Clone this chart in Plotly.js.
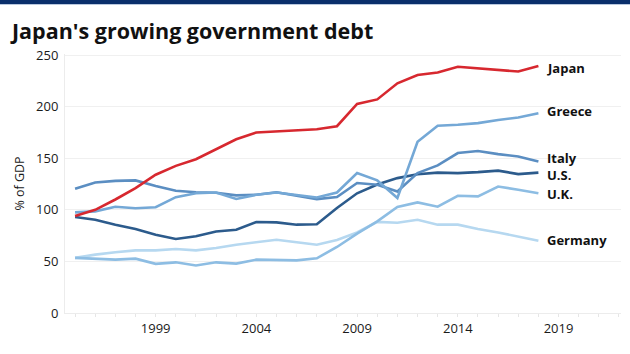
<!DOCTYPE html>
<html>
<head>
<meta charset="utf-8">
<script src="https://cdn.plot.ly/plotly-3.0.1.min.js"></script>
<style>
  html, body { margin: 0; padding: 0; background: #fff; }
  #chart { width: 630px; height: 354px; }
</style>
</head>
<body>
<div id="chart"></div>
<script>
const years = [1995, 1996, 1997, 1998, 1999, 2000, 2001, 2002, 2003, 2004, 2005, 2006,
               2007, 2008, 2009, 2010, 2011, 2012, 2013, 2014, 2015, 2016, 2017, 2018];

const japan   = [94, 100, 110, 121, 134, 142.6, 149, 158.8, 168.4, 175, 175.8, 176.5,
                 178, 181, 202.6, 207, 222.6, 230.6, 233, 238.7, 237, 236, 234, 239.3];
const greece  = [97.5, 98.5, 103, 101.5, 102.5, 112.3, 116, 116.8, 110.5, 114.6, 116.8, 114.6,
                 112, 116.8, 135.6, 128.5, 111.4, 166, 181.5, 182.5, 184, 187, 189.5, 193.6];
const italy   = [120.5, 126.5, 128, 128.5, 123, 118.5, 117, 116.5, 114, 114.6, 117, 113.5,
                 110.4, 112.4, 126, 124.3, 117.8, 135.6, 143, 155, 157, 154, 151.7, 146.8];
const us      = [93, 90.4, 85.6, 81.4, 75.9, 71.7, 74.3, 79, 80.7, 88.2, 87.8, 85.6,
                 86, 101.7, 116, 124.5, 130.7, 134.5, 136, 135.6, 136.5, 138, 134.6, 136];
const uk      = [53.4, 52.4, 51.7, 52.7, 47.6, 49.1, 46, 49.1, 47.9, 51.7, 51.7, 51,
                 53, 64, 77, 88.8, 102.7, 107.2, 103, 113.6, 113, 122.6, 119.4, 116];
const germany = [53.4, 56.6, 58.8, 60.7, 60.7, 62, 60.7, 63, 66.2, 68.5, 71, 68.5,
                 66.2, 70.7, 78, 88.3, 87.5, 90.4, 85.6, 85.6, 81.4, 78, 74.3, 70];

const seriesNames = ["Germany", "U.K.", "U.S.", "Italy", "Greece", "Japan"];
const seriesData  = [germany, uk, us, italy, greece, japan];
const seriesColors = ["#b6d8f0", "#8dbde3", "#2c5b8c", "#5b8ec2", "#74a8d6", "#d7282f"];
const labelShift   = [1, -1, -2, 4, 2, -2];

const xTickVals = [1999, 2004, 2009, 2014, 2019];
const xTickText = ["1999", "2004", "2009", "2014", "2019"];
const yTickVals = [0, 50, 100, 150, 200, 250];

const traces = seriesNames.map((name, i) => ({
  type: "scatter",
  mode: "lines",
  name: name,
  x: years,
  y: seriesData[i],
  line: { color: seriesColors[i], width: 2.6 },
  hoverinfo: "x+y+name"
}));

const annotations = seriesNames.map((name, i) => ({
  x: years[years.length - 1],
  y: seriesData[i][seriesData[i].length - 1],
  xref: "x", yref: "y",
  text: name,
  showarrow: false,
  xanchor: "left",
  yanchor: "middle",
  xshift: 7,
  yshift: labelShift[i],
  font: { family: "Open Sans, sans-serif", size: 13, color: "#111", weight: 700 }
}));

const layout = {
  width: 630,
  height: 354,
  margin: { l: 65, r: 9, t: 54, b: 40.5 },
  paper_bgcolor: "#ffffff",
  plot_bgcolor: "#ffffff",
  showlegend: false,
  font: { family: "Open Sans, sans-serif", color: "#222" },
  title: {
    text: "<b>Japan's growing government debt</b>",
    x: 12 / 630, xanchor: "left", xref: "container",
    y: 1 - 31 / 354, yanchor: "middle", yref: "container",
    font: { family: "Open Sans, sans-serif", size: 21.5, color: "#111" }
  },
  xaxis: {
    range: [1994.5, 2022.1],
    tickvals: xTickVals,
    ticktext: xTickText,
    ticks: "outside",
    ticklen: 3,
    tickcolor: "#e6e6e6",
    tickfont: { size: 13, color: "#1a1a1a" },
    showgrid: false,
    showline: true,
    linecolor: "#ececec",
    linewidth: 1,
    zeroline: false,
    minor: { dtick: 1, tick0: 1995, ticks: "outside", ticklen: 3, tickcolor: "#e6e6e6", showgrid: false },
    fixedrange: true
  },
  yaxis: {
    range: [0, 251],
    tickvals: yTickVals,
    ticks: "",
    tickfont: { size: 13, color: "#1a1a1a" },
    showgrid: true,
    gridcolor: "#f0f0f0",
    gridwidth: 1,
    showline: true,
    linecolor: "#ececec",
    zeroline: false,
    ticklabelstandoff: 3,
    title: { text: "% of GDP", font: { size: 12.5, color: "#1a1a1a" }, standoff: 8 },
    fixedrange: true
  },
  shapes: [
    {
      type: "rect", xref: "paper", yref: "paper",
      xsizemode: "pixel", xanchor: 0, x0: -65, x1: 570,
      ysizemode: "pixel", yanchor: 1, y0: 50, y1: 55,
      fillcolor: "#0a2f6b", line: { width: 0 }, layer: "above"
    },
    {
      type: "rect", xref: "paper", yref: "paper",
      xsizemode: "pixel", xanchor: 0, x0: -65, x1: 570,
      ysizemode: "pixel", yanchor: 1, y0: 49, y1: 50,
      fillcolor: "#b9c8de", line: { width: 0 }, layer: "above"
    }
  ],
  annotations: annotations
};

Plotly.newPlot("chart", traces, layout, { displayModeBar: false, staticPlot: true });
</script>
</body>
</html>
